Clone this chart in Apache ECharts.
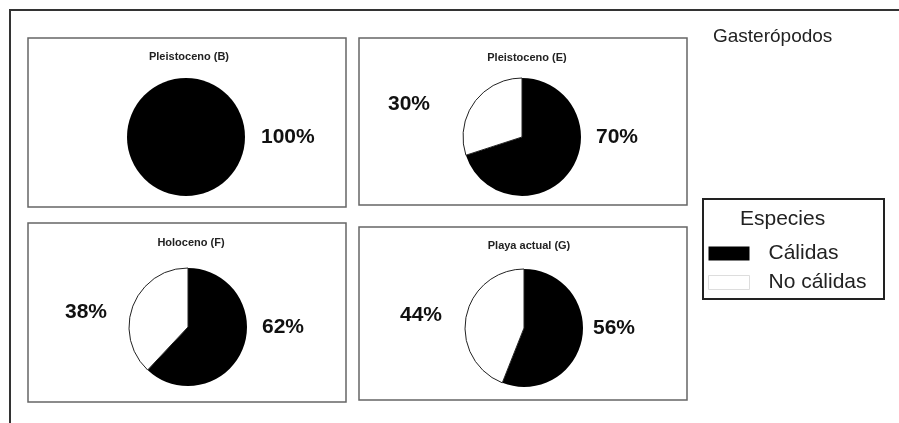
<!DOCTYPE html>
<html>
<head>
<meta charset="utf-8">
<script src="https://cdn.jsdelivr.net/npm/echarts@6/dist/echarts.min.js"></script>
<style>
  html, body { margin: 0; padding: 0; background: #fff; }
  #chart { width: 899px; height: 423px; }
</style>
</head>
<body>
<div id="chart"></div>
<script>
// data
var periods = ['Pleistoceno (B)', 'Pleistoceno (E)', 'Holoceno (F)', 'Playa actual (G)'];
var speciesNames = ['Cálidas', 'No cálidas'];
var calidas = [100, 70, 62, 56];
var noCalidas = [0, 30, 38, 44];

// layout of the four panels (box, pie centre)
var boxes = [[28, 38, 318, 169], [359, 38, 328, 167], [28, 223, 318, 179], [359, 227, 328, 173]];
var centers = [[186, 137], [522, 137], [188, 327], [524, 328]];
var titleY = [53, 54, 239, 242];
var R = 59;
// label offsets from the centre: black label dx, white label dx/dy
var labelOff = [[75, 0, 0], [74, -92, -33], [74, -81, -15], [69, -82, -13]];

var chart = echarts.init(document.getElementById('chart'));

var series = [];
var titles = [];
var graphics = [];
for (var i = 0; i < periods.length; ++i) {
    var data = [];
    if (calidas[i] > 0) {
        data.push({ name: speciesNames[0], value: calidas[i],
            itemStyle: { color: '#000', borderColor: '#000', borderWidth: 0 } });
    }
    if (noCalidas[i] > 0) {
        data.push({ name: speciesNames[1], value: noCalidas[i],
            itemStyle: { color: '#fff', borderColor: '#222', borderWidth: 1 } });
    }
    (function (idx) {
        series.push({
            type: 'pie',
            center: centers[idx],
            radius: R,
            startAngle: 90,
            clockwise: true,
            silent: true,
            animation: false,
            data: data,
            label: {
                show: true,
                position: 'outside',
                formatter: '{c}%',
                fontFamily: 'Liberation Sans, Arial, sans-serif',
                fontWeight: 'bold',
                fontSize: 21,
                color: '#111'
            },
            labelLine: { show: false },
            labelLayout: function (p) {
                var c = centers[idx];
                var o = labelOff[idx];
                if (p.dataIndex === 0) {
                    return { x: c[0] + o[0], y: c[1], align: 'left', verticalAlign: 'middle' };
                }
                return { x: c[0] + o[1], y: c[1] + o[2], align: 'right', verticalAlign: 'middle' };
            }
        });
    })(i);
    titles.push({
        text: periods[i],
        left: centers[i][0] - (i % 2 === 0 ? 2 : 0),
        top: titleY[i] - 7,
        textAlign: 'center',
        textStyle: {
            fontFamily: 'Liberation Sans, Arial, sans-serif',
            fontWeight: 'bold',
            fontSize: 11,
            color: '#222'
        }
    });
    graphics.push({
        type: 'rect',
        shape: { x: boxes[i][0], y: boxes[i][1], width: boxes[i][2], height: boxes[i][3] },
        style: { fill: 'none', stroke: '#666', lineWidth: 1.5 },
        silent: true
    });
}

// outer frame (top and left only)
graphics.push({
    type: 'polyline',
    shape: { points: [[10, 423], [10, 10], [899, 10]] },
    style: { fill: 'none', stroke: '#333', lineWidth: 2 },
    silent: true
});
graphics.push({
    type: 'text',
    left: 713, top: 27,
    style: { text: 'Gasterópodos', font: '19px "Liberation Sans", Arial, sans-serif', fill: '#222' }
});
// legend box with its heading
graphics.push({
    type: 'rect',
    shape: { x: 703, y: 199, width: 181, height: 100 },
    style: { fill: '#fff', stroke: '#222', lineWidth: 2 },
    silent: true,
    z: -1
});
graphics.push({
    type: 'text',
    left: 740, top: 209,
    style: { text: 'Especies', font: '21px "Liberation Sans", Arial, sans-serif', fill: '#222' }
});

chart.setOption({
    backgroundColor: '#fff',
    animation: false,
    title: titles,
    legend: {
        data: [
            { name: speciesNames[0] },
            { name: speciesNames[1], itemStyle: { color: '#fff', borderColor: '#ddd', borderWidth: 1 } }
        ],
        orient: 'vertical',
        left: 708,
        top: 243,
        padding: 0,
        itemWidth: 41,
        itemHeight: 14,
        itemGap: 8,
        icon: 'rect',
        selectedMode: false,
        textStyle: {
            fontFamily: 'Liberation Sans, Arial, sans-serif',
            fontSize: 21,
            color: '#222',
            padding: [0, 0, 0, 14]
        }
    },
    graphic: graphics,
    series: series
});
</script>
</body>
</html>
